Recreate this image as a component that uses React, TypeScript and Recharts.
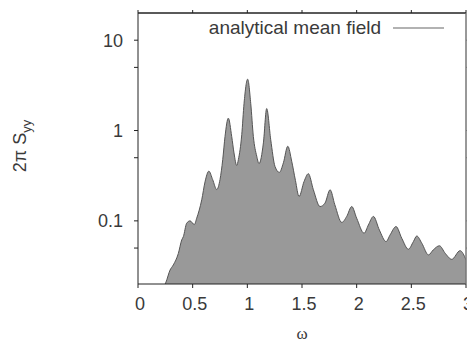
import React from 'react';
import { AreaChart, Area, XAxis, YAxis, ReferenceLine } from 'recharts';

// omega values and spectrum
const omega = [
  0.24, 0.256, 0.293, 0.323, 0.369, 0.4, 0.415, 0.445, 0.476, 0.515, 0.537, 0.583, 0.613, 0.648,
  0.683, 0.72, 0.75, 0.775, 0.796, 0.826, 0.857, 0.878, 0.903, 0.918, 0.949, 0.97, 1.003, 1.031,
  1.055, 1.086, 1.107, 1.147, 1.177, 1.214, 1.253, 1.293, 1.33, 1.37, 1.406, 1.44, 1.473, 1.519,
  1.558, 1.604, 1.665, 1.71, 1.757, 1.8, 1.864, 1.909, 1.955, 2.0, 2.068, 2.107, 2.153, 2.208,
  2.269, 2.306, 2.36, 2.413, 2.473, 2.519, 2.55, 2.596, 2.657, 2.7, 2.757, 2.81, 2.87, 2.946, 3.0,
];
const syy = [
  0.019, 0.021, 0.0285, 0.0325, 0.0436, 0.0615, 0.067, 0.094, 0.1, 0.091, 0.107, 0.171, 0.27, 0.355,
  0.286, 0.222, 0.286, 0.476, 0.86, 1.37, 0.86, 0.565, 0.41, 0.476, 0.9, 2.0, 3.7, 2.0,
  0.86, 0.52, 0.43, 0.73, 1.75, 0.79, 0.4, 0.344, 0.44, 0.67, 0.456, 0.28, 0.186, 0.273,
  0.333, 0.221, 0.144, 0.157, 0.221, 0.151, 0.096, 0.112, 0.144, 0.107, 0.073, 0.09, 0.112, 0.079,
  0.059, 0.07, 0.0865, 0.064, 0.0485, 0.059, 0.068, 0.0565, 0.042, 0.0476, 0.053, 0.0437, 0.0375, 0.0468, 0.037,
];

const xTicks = [0, 0.5, 1, 1.5, 2, 2.5, 3];
const yTicks = [0.05, 0.1, 0.5, 1, 5, 10];
const yLabelled = [0.1, 1, 10];
const yDomain = [0.02, 20];
const legendLabel = 'analytical mean field';

const data = omega.map((w, i) => ({ omega: w, syy: syy[i] }));

const FONT = 'Arial, "Liberation Sans", sans-serif';
const tickStyle = { fontSize: 18, fill: '#3a3a3a', fontFamily: FONT };

const YLabel = () => (
  <text
    x={26}
    y={146}
    transform="rotate(-90 26 146)"
    textAnchor="middle"
    fontFamily={FONT}
    fontSize={18}
    fill="#3a3a3a"
  >
    2π S<tspan dy={5} fontSize={13}>yy</tspan>
  </text>
);

const XLabel = () => (
  <text x={302} y={339} textAnchor="middle" fontFamily='"Liberation Serif", "DejaVu Serif", serif' fontSize={17} fill="#3a3a3a">
    ω
  </text>
);

export default function App() {
  return (
    <div style={{ position: 'absolute', left: 0, top: 0, width: 467, height: 343, overflow: 'hidden', background: '#fff' }}>
      {/* chart is a bit wider than the page so the right frame sits at x=466 and the "3" gets clipped like the original */}
      <AreaChart width={476} height={343} data={data} margin={{ top: 0, right: 0, left: 0, bottom: 0 }}>
        <XAxis
          xAxisId="bottom"
          dataKey="omega"
          type="number"
          domain={[0, 3]}
          ticks={xTicks}
          allowDataOverflow
          height={59}
          stroke="#222"
          tickSize={4}
          tickMargin={9}
          tick={{ ...tickStyle, dx: 2 }}
          label={<XLabel />}
        />
        <XAxis
          xAxisId="top"
          orientation="top"
          dataKey="omega"
          type="number"
          domain={[0, 3]}
          ticks={xTicks}
          allowDataOverflow
          height={13}
          stroke="#222"
          tickSize={3}
          tickFormatter={() => ''}
        />
        <YAxis
          yAxisId="left"
          scale="log"
          type="number"
          domain={yDomain}
          allowDataOverflow
          ticks={yTicks}
          width={138}
          stroke="#222"
          tickSize={4}
          tickMargin={11}
          tick={tickStyle}
          tickFormatter={(v: number) => (yLabelled.includes(v) ? String(v) : '')}
          label={<YLabel />}
        />
        <YAxis
          yAxisId="right"
          orientation="right"
          scale="log"
          type="number"
          domain={yDomain}
          allowDataOverflow
          ticks={yTicks}
          width={10}
          stroke="#777"
          tickSize={3}
          tickFormatter={() => ''}
        />
        <Area
          xAxisId="bottom"
          yAxisId="left"
          dataKey="syy"
          type="monotone"
          baseValue={0.02}
          stroke="#555"
          strokeWidth={1}
          fill="#999"
          fillOpacity={1}
          isAnimationActive={false}
        />
        {/* invisible copy so the mirror axes (top / right frame) get drawn */}
        <Area
          xAxisId="top"
          yAxisId="right"
          dataKey="syy"
          type="monotone"
          baseValue={0.02}
          stroke="none"
          fill="none"
          activeDot={false}
          isAnimationActive={false}
        />
        <ReferenceLine xAxisId="bottom" yAxisId="left" y={yDomain[1]} stroke="#222" />
        <ReferenceLine xAxisId="bottom" yAxisId="left" x={3} stroke="#777" />
      </AreaChart>
      <div
        style={{
          position: 'absolute',
          left: 0,
          top: 17,
          width: 444,
          display: 'flex',
          justifyContent: 'flex-end',
          alignItems: 'center',
          fontFamily: FONT,
          fontSize: 19,
          color: '#3a3a3a',
          lineHeight: '22px',
        }}
      >
        <span>{legendLabel}</span>
        <svg width={63} height={22}>
          <line x1={12} x2={63} y1={11} y2={11} stroke="#999" strokeWidth={1.5} />
        </svg>
      </div>
    </div>
  );
}
